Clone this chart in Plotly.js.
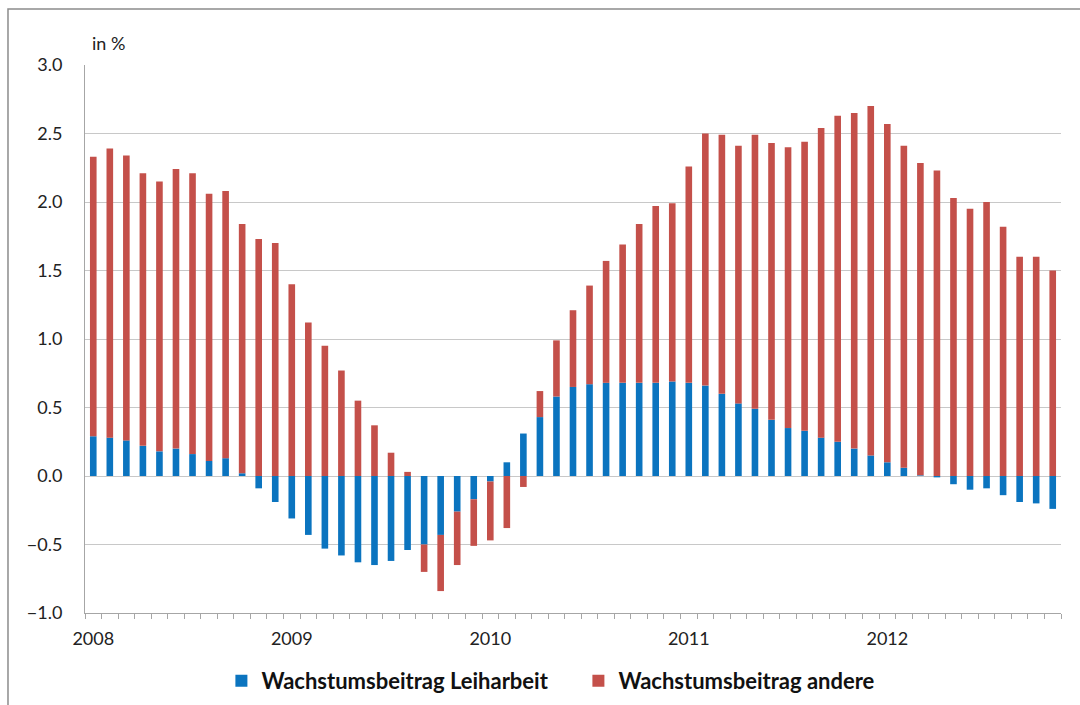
<!DOCTYPE html>
<html>
<head>
<meta charset="utf-8">
<script src="https://cdn.plot.ly/plotly-3.0.1.min.js"></script>
<style>html,body{margin:0;padding:0;background:#fff;}#chart{width:1080px;height:705px;}</style>
</head>
<body>
<div id="chart"></div>
<script>
// Monthly categories Jan 2008 - Nov 2012
const years = ["2008", "2009", "2010", "2011", "2012"];
const monthsPerYear = [12, 12, 12, 12, 11];

// Wachstumsbeitrag Leiharbeit (percentage points)
const leiharbeit = [
  0.29, 0.28, 0.26, 0.22, 0.18, 0.20, 0.16, 0.11, 0.13, 0.02, -0.09, -0.19,
  -0.31, -0.43, -0.53, -0.58, -0.63, -0.65, -0.62, -0.54, -0.50, -0.43, -0.26, -0.17,
  -0.04, 0.10, 0.31, 0.43, 0.58, 0.65, 0.67, 0.68, 0.68, 0.68, 0.68, 0.69,
  0.68, 0.66, 0.60, 0.53, 0.49, 0.41, 0.35, 0.33, 0.28, 0.25, 0.20, 0.15,
  0.10, 0.06, 0.005, -0.01, -0.06, -0.10, -0.09, -0.14, -0.19, -0.20, -0.24
];

// Wachstumsbeitrag andere (percentage points)
const andere = [
  2.04, 2.11, 2.08, 1.99, 1.97, 2.04, 2.05, 1.95, 1.95, 1.82, 1.73, 1.70,
  1.40, 1.12, 0.95, 0.77, 0.55, 0.37, 0.17, 0.03, -0.20, -0.41, -0.39, -0.34,
  -0.43, -0.38, -0.08, 0.19, 0.41, 0.56, 0.72, 0.89, 1.01, 1.16, 1.29, 1.30,
  1.58, 1.84, 1.89, 1.88, 2.00, 2.02, 2.05, 2.11, 2.26, 2.38, 2.45, 2.55,
  2.47, 2.35, 2.28, 2.23, 2.03, 1.95, 2.00, 1.82, 1.60, 1.60, 1.50
];

const months = [];
years.forEach((y, yi) => { for (let m = 1; m <= monthsPerYear[yi]; m++) months.push(y + "-" + String(m).padStart(2, "0")); });
const xIdx = months.map((_, i) => i);
const yearTickVals = [];
months.forEach((m, i) => { if (m.endsWith("-01")) yearTickVals.push(i); });

const FONT = "Lato, 'Open Sans', sans-serif";

const traces = [
  {
    type: "bar", name: "Wachstumsbeitrag Leiharbeit", x: xIdx, y: leiharbeit,
    text: months, hoverinfo: "text+y", textposition: "none", marker: {color: "#0B74BF"}
  },
  {
    type: "bar", name: "Wachstumsbeitrag andere", x: xIdx, y: andere,
    text: months, hoverinfo: "text+y", textposition: "none", marker: {color: "#C4504A"}
  }
];

const layout = {
  width: 1080, height: 705,
  margin: {l: 85, r: 19, t: 65, b: 92},
  paper_bgcolor: "#fff", plot_bgcolor: "#fff",
  barmode: "relative", bargap: 0.6,
  font: {family: FONT, size: 18, color: "#222"},
  xaxis: {
    automargin: false,
    range: [-0.5, months.length - 0.5],
    tickvals: yearTickVals, ticktext: years,
    ticks: "", showgrid: false, zeroline: false,
    showline: true, linecolor: "#A6A6A6", linewidth: 1,
    ticklabelstandoff: 9,
    tickfont: {family: FONT, size: 18, color: "#222"},
    minor: {tick0: -0.5, dtick: 1, ticks: "outside", ticklen: 5, tickcolor: "#A6A6A6", tickwidth: 1, showgrid: false}
  },
  yaxis: {
    automargin: false,
    range: [-1, 3], dtick: 0.5, tickformat: ".1f",
    showgrid: true, gridcolor: "#C8C8C8", gridwidth: 1,
    zeroline: false, showline: true, linecolor: "#A6A6A6", linewidth: 1,
    ticks: "", ticklabelstandoff: 18,
    tickfont: {family: FONT, size: 18, color: "#222"}
  },
  legend: {
    orientation: "h", xref: "container", yref: "container",
    x: 0.205, xanchor: "left", y: 0.034, yanchor: "middle",
    entrywidth: 312, entrywidthmode: "pixels",
    font: {family: FONT, size: 22, color: "#111", weight: "bold"},
    itemwidth: 30, traceorder: "normal"
  },
  annotations: [
    {text: "in %", xref: "paper", yref: "paper", x: 0.005, y: 1.04, xanchor: "left", yanchor: "middle",
     showarrow: false, font: {family: FONT, size: 18, color: "#222"}}
  ],
  shapes: [
    {type: "rect", xref: "paper", yref: "paper", x0: -0.0789, x1: 1.06, y0: -0.2, y1: 1.102,
     line: {color: "#8C8C8C", width: 1.5}, fillcolor: "rgba(0,0,0,0)", layer: "below"}
  ]
};

Plotly.newPlot("chart", traces, layout, {displayModeBar: false, staticPlot: true});
</script>
</body>
</html>
